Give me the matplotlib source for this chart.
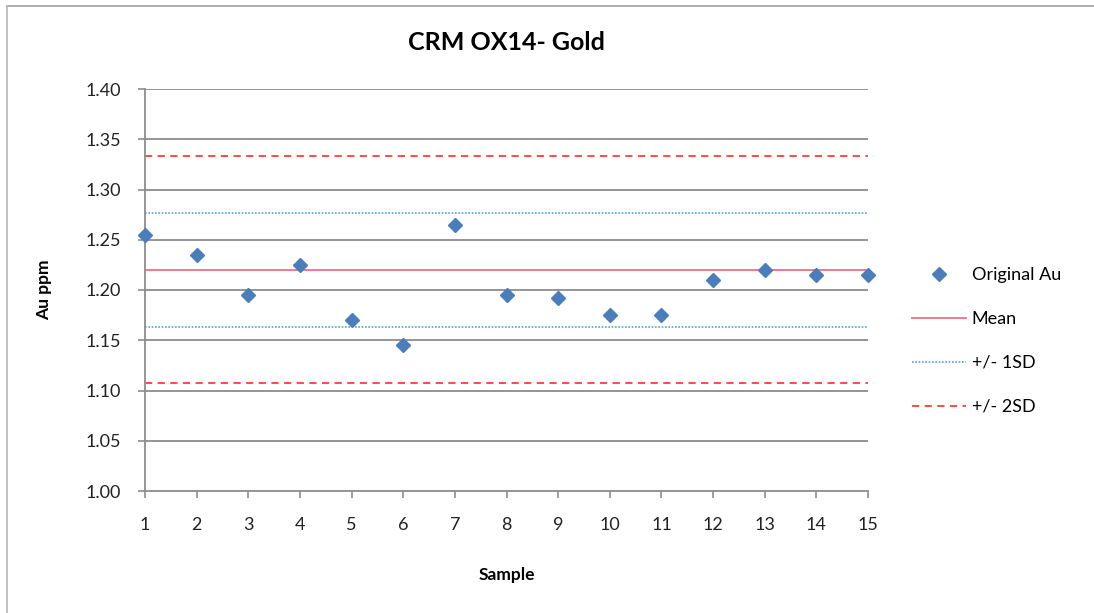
import numpy as np
import matplotlib.pyplot as plt
from matplotlib.lines import Line2D

plt.rcParams['font.family'] = ['Lato', 'DejaVu Sans']

samples = list(range(1, 16))
original_au = [1.255, 1.235, 1.195, 1.225, 1.17, 1.145, 1.265, 1.195,
               1.192, 1.175, 1.175, 1.21, 1.22, 1.215, 1.215]
mean_val = 1.220
sd1 = [1.163, 1.277]
sd2 = [1.107, 1.333]
y_ticks = [1.00, 1.05, 1.10, 1.15, 1.20, 1.25, 1.30, 1.35, 1.40]

fig = plt.figure(figsize=(10.94, 6.13), dpi=100)
W, H = 1094, 613
ax = fig.add_axes([145 / W, 1 - 491 / H, (868 - 145) / W, (491 - 89) / H])

# chart border (top and left visible)
fig.add_artist(Line2D([7 / W, 1], [1 - 6 / H, 1 - 6 / H], transform=fig.transFigure, color='#a0a0a0', lw=1.2))
fig.add_artist(Line2D([7 / W, 7 / W], [0, 1 - 6 / H], transform=fig.transFigure, color='#b8b8b8', lw=1.2))

for yv in y_ticks[1:]:
    ax.axhline(yv, color='#8c8c8c', lw=1.3, zorder=1)

xs = [samples[0], samples[-1]]
ax.plot(xs, [mean_val, mean_val], color='#f26d85', lw=1.3, label='Mean', zorder=2)
ax.plot(xs, [sd1[0]] * 2, color='#4aaacc', lw=1.2, ls=(0, (1, 1)), label='+/- 1SD', zorder=2)
ax.plot(xs, [sd1[1]] * 2, color='#4aaacc', lw=1.2, ls=(0, (1, 1)), zorder=2)
ax.plot(xs, [sd2[0]] * 2, color='#ff3b3b', lw=1.3, ls=(0, (4, 3)), label='+/- 2SD', zorder=2)
ax.plot(xs, [sd2[1]] * 2, color='#ff3b3b', lw=1.3, ls=(0, (4, 3)), zorder=2)
ax.plot(samples, original_au, ls='none', marker='D', ms=7, color='#4a7ebb',
        label='Original Au', zorder=3, clip_on=False)

ax.set_xlim(1, 15)
ax.set_ylim(1.0, 1.4)
ax.set_xticks(samples)
ax.set_yticks(y_ticks)
ax.set_yticklabels([f'{v:.2f}' for v in y_ticks])
for s in ['top', 'right']:
    ax.spines[s].set_visible(False)
for s in ['left', 'bottom']:
    ax.spines[s].set_color('#8c8c8c')
    ax.spines[s].set_linewidth(1.3)
ax.tick_params(axis='both', colors='#8c8c8c', labelcolor='#222222', labelsize=13, length=5, width=1.2)
ax.tick_params(axis='x', pad=14)
ax.tick_params(axis='y', pad=12)

ax.set_xlabel('Sample', fontsize=12.5, fontweight='bold', labelpad=24)
ax.set_ylabel('Au ppm', fontsize=12.5, fontweight='bold', labelpad=24)
fig.text((145 + 868) / 2 / W, 1 - 43 / H, 'CRM OX14- Gold', fontsize=18, fontweight='bold',
         ha='center', va='center')

handles, labels = ax.get_legend_handles_labels()
order = ['Original Au', 'Mean', '+/- 1SD', '+/- 2SD']
hl = dict(zip(labels, handles))
fig.legend([hl[k] for k in order], order, loc='center left', bbox_to_anchor=(896 / W, 1 - 341 / H),
           frameon=False, fontsize=13, labelspacing=1.55, handlelength=3.0, handletextpad=0.3)

fig.savefig('out.png', dpi=100)
